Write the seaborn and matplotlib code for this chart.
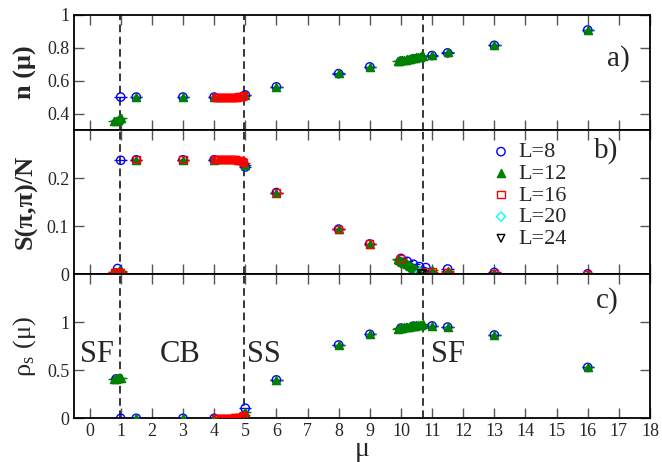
import numpy as np
import pandas as pd
import matplotlib
matplotlib.use("Agg")
import matplotlib.pyplot as plt
import seaborn as sns

sns.set_theme(style="ticks")
plt.rcParams['font.family'] = ['Liberation Serif', 'DejaVu Serif']
plt.rcParams['mathtext.fontset'] = 'stix'

# ---- data ----
labels = ['L=8', 'L=12', 'L=16', 'L=20', 'L=24']

# panel a) n(mu)
a_mu8 = [1.0, 1.5, 3.0, 4.0, 5.0, 6.0, 8.0, 9.0, 10.0, 10.4, 11.0, 11.5, 13.0, 16.0]
a_n8 = [0.50, 0.50, 0.50, 0.50, 0.513, 0.562, 0.642, 0.683, 0.718, 0.732, 0.752, 0.768, 0.814, 0.907]
a_mu12 = [0.8, 0.85, 0.9, 0.95, 1.0, 1.5, 3.0, 4.0, 5.0, 6.0, 8.0, 9.0,
          9.9, 9.95, 10.0, 10.05, 10.1, 10.15, 10.2, 10.25, 10.3, 10.35, 10.4,
          10.45, 10.5, 10.55, 10.6, 10.65, 10.7, 11.0, 11.5, 13.0, 16.0]
a_n12 = [0.352, 0.356, 0.362, 0.367, 0.372, 0.503, 0.503, 0.503, 0.515, 0.564, 0.645, 0.685,
         0.717, 0.719, 0.722, 0.724, 0.725, 0.728, 0.730, 0.731, 0.734, 0.736, 0.737,
         0.739, 0.741, 0.743, 0.745, 0.747, 0.749, 0.754, 0.771, 0.816, 0.909]
a_mu16 = [4.05, 4.1, 4.15, 4.2, 4.25, 4.3, 4.35, 4.4, 4.45, 4.5, 4.55, 4.6, 4.65,
          4.7, 4.75, 4.8, 4.85, 4.9, 4.95]
a_n16 = [0.50, 0.50, 0.50, 0.50, 0.50, 0.50, 0.50, 0.50, 0.50, 0.50, 0.50, 0.50, 0.50,
         0.50, 0.50, 0.501, 0.502, 0.504, 0.508]

# panel b) S(pi,pi)/N
b_mu8 = [0.9, 1.0, 1.5, 3.0, 4.0, 5.0, 6.0, 8.0, 9.0, 10.0, 10.2, 10.4, 10.6, 10.8, 11.5, 13.0, 16.0]
b_s8 = [0.012, 0.237, 0.238, 0.238, 0.238, 0.223, 0.170, 0.094, 0.063, 0.033, 0.027, 0.021,
        0.016, 0.014, 0.011, 0.004, 0.001]
b_mu12 = [0.8, 0.85, 0.9, 0.95, 1.0, 1.5, 3.0, 4.0, 5.0, 6.0, 8.0, 9.0,
          9.9, 9.95, 10.0, 10.05, 10.1, 10.15, 10.2, 10.25, 10.3, 10.35, 10.4,
          10.45, 10.5, 10.55, 10.6, 10.65, 10.7, 11.0, 11.5, 13.0, 16.0]
b_s12 = [0.004, 0.005, 0.005, 0.006, 0.006, 0.238, 0.238, 0.238, 0.228, 0.170, 0.094, 0.063,
         0.032, 0.030, 0.028, 0.026, 0.024, 0.023, 0.021, 0.019, 0.017, 0.016, 0.014,
         0.012, 0.011, 0.009, 0.007, 0.006, 0.004, 0.008, 0.006, 0.003, 0.000]
b_mu16 = [0.8, 0.85, 0.9, 0.95, 1.0, 1.5, 3.0,
          4.0, 4.05, 4.1, 4.15, 4.2, 4.25, 4.3, 4.35, 4.4, 4.45, 4.5, 4.55, 4.6, 4.65,
          4.7, 4.75, 4.8, 4.85, 4.9, 4.95, 6.0, 8.0, 9.0, 10.0, 10.7, 11.0, 11.5, 13.0, 16.0]
b_s16 = [0.004, 0.004, 0.004, 0.004, 0.004, 0.238, 0.238,
         0.238, 0.238, 0.238, 0.238, 0.238, 0.238, 0.238, 0.238, 0.238, 0.238, 0.238, 0.238,
         0.238, 0.238, 0.238, 0.237, 0.237, 0.236, 0.234, 0.232, 0.170, 0.094, 0.063, 0.033,
         0.006, 0.005, 0.004, 0.002, 0.000]
b_mu20 = [10.6]
b_s20 = [0.004]
b_mu24 = [10.65, 10.7]
b_s24 = [0.002, 0.001]

# panel c) rho_s(mu)
c_mu8 = [0.85, 1.0, 1.5, 3.0, 4.0, 5.0, 6.0, 8.0, 9.0, 10.0, 10.4, 11.0, 11.5, 13.0, 16.0]
c_r8 = [0.41, 0.0, 0.0, 0.0, 0.0, 0.105, 0.40, 0.764, 0.875, 0.94, 0.96, 0.962, 0.95, 0.868, 0.53]
c_mu12 = [0.8, 0.85, 0.9, 0.95, 1.0, 1.5, 3.0, 4.0, 5.0, 6.0, 8.0, 9.0,
          9.9, 9.95, 10.0, 10.05, 10.1, 10.15, 10.2, 10.25, 10.3, 10.35, 10.4,
          10.45, 10.5, 10.55, 10.6, 10.65, 10.7, 11.0, 11.5, 13.0, 16.0]
c_r12 = [0.410, 0.412, 0.415, 0.418, 0.420, 0.0, 0.0, 0.0, 0.065, 0.40, 0.764, 0.875,
         0.935, 0.938, 0.942, 0.945, 0.947, 0.950, 0.953, 0.955, 0.958, 0.960, 0.963,
         0.965, 0.967, 0.970, 0.973, 0.976, 0.980, 0.962, 0.948, 0.868, 0.53]
c_mu16 = [4.05, 4.1, 4.15, 4.2, 4.25, 4.3, 4.35, 4.4, 4.45, 4.5, 4.55, 4.6, 4.65,
          4.7, 4.75, 4.8, 4.85, 4.9, 4.95]
c_r16 = [0.0, 0.0, 0.0, 0.0, 0.0, 0.0, 0.0, 0.0, 0.0, 0.001, 0.001, 0.002, 0.003,
         0.004, 0.006, 0.009, 0.013, 0.019, 0.030]

transitions = [0.98, 4.97, 10.7]

styles = {
    'L=8': dict(marker='o', color='blue', filled=False, s=36),
    'L=12': dict(marker='^', color='green', filled=True, s=34),
    'L=16': dict(marker='s', color='red', filled=False, s=26),
    'L=20': dict(marker='D', color='cyan', filled=False, s=22),
    'L=24': dict(marker='v', color='black', filled=False, s=30),
}


def draw(ax, mu, y, lab, legend=False):
    st = styles[lab]
    df = pd.DataFrame({'mu': mu, 'y': y})
    ax.errorbar(df['mu'], df['y'], xerr=0.2, fmt='none', ecolor=st['color'],
                elinewidth=1.0, zorder=2)
    fc = st['color'] if st['filled'] else 'none'
    sns.scatterplot(data=df, x='mu', y='y', ax=ax, marker=st['marker'], s=st['s'],
                    facecolor=fc, edgecolor=st['color'], linewidth=1.0,
                    label=lab if legend else None, zorder=3, legend=False)


fig = plt.figure(figsize=(6.62, 4.62), dpi=100)
left, width = 74 / 662, 576 / 662
ax_a = fig.add_axes([left, 1 - 130 / 462, width, 115.3 / 462])
ax_b = fig.add_axes([left, 1 - 274.3 / 462, width, 144.3 / 462])
ax_c = fig.add_axes([left, 1 - 418.3 / 462, width, 144 / 462])

draw(ax_a, a_mu8, a_n8, 'L=8')
draw(ax_a, a_mu12, a_n12, 'L=12')
draw(ax_a, a_mu16, a_n16, 'L=16')

draw(ax_b, b_mu8, b_s8, 'L=8', True)
draw(ax_b, b_mu12, b_s12, 'L=12', True)
draw(ax_b, b_mu16, b_s16, 'L=16', True)
draw(ax_b, b_mu20, b_s20, 'L=20', True)
draw(ax_b, b_mu24, b_s24, 'L=24', True)

draw(ax_c, c_mu8, c_r8, 'L=8')
draw(ax_c, c_mu12, c_r12, 'L=12')
draw(ax_c, c_mu16, c_r16, 'L=16')

for ax in (ax_a, ax_b, ax_c):
    ax.set_xlim(-0.5, 18)
    ax.set_xticks(range(0, 19))
    ax.tick_params(direction='in', top=True, right=True, length=7, width=1.0,
                   labelsize=13, color='#555555')
    for sp in ax.spines.values():
        sp.set_linewidth(1.3)
        sp.set_color('black')
    for xv in transitions:
        ax.axvline(xv, color='black', ls=(0, (5, 3)), lw=1.1, zorder=1)
    ax.set_xlabel('')

ax_a.set_ylim(0.3, 1.0)
ax_a.set_yticks([0.4, 0.6, 0.8, 1.0])
ax_a.set_yticklabels(['0.4', '0.6', '0.8', '1'])
ax_b.set_ylim(0, 0.3)
ax_b.set_yticks([0, 0.1, 0.2])
ax_b.set_yticklabels(['0', '0.1', '0.2'])
ax_c.set_ylim(0, 1.5)
ax_c.set_yticks([0, 0.5, 1.0])
ax_c.set_yticklabels(['0', '0.5', '1'])
ax_a.tick_params(labelbottom=False)
ax_b.tick_params(labelbottom=False)

ax_a.set_ylabel('n (μ)', fontsize=19, fontweight='bold')
ax_b.set_ylabel('S(π,π)/N', fontsize=19, fontweight='bold')
ax_c.set_ylabel(r'ρ$_\mathregular{s}$ (μ)', fontsize=19)
ax_c.set_xlabel('μ', fontsize=20, labelpad=-2)
ax_a.yaxis.set_label_coords(-0.064, 0.5)
ax_b.yaxis.set_label_coords(-0.064, 0.5)
ax_c.yaxis.set_label_coords(-0.062, 0.5)

ax_a.text(0.965, 0.62, 'a)', transform=ax_a.transAxes, fontsize=21, ha='right', va='center')
ax_b.text(0.945, 0.86, 'b)', transform=ax_b.transAxes, fontsize=21, ha='right', va='center')
ax_c.text(0.945, 0.82, 'c)', transform=ax_c.transAxes, fontsize=21, ha='right', va='center')

for x, t in [(0.25, 'SF'), (2.9, 'CB'), (5.6, 'SS'), (11.5, 'SF')]:
    ax_c.text(x, 0.66, t, fontsize=22, ha='center', va='center')

leg = ax_b.legend(loc='upper left', bbox_to_anchor=(0.695, 1.01), frameon=False,
                  fontsize=16, handletextpad=0.2, labelspacing=0.05,
                  borderaxespad=0.2, handlelength=1.2)

fig.savefig('out.png', dpi=100)
